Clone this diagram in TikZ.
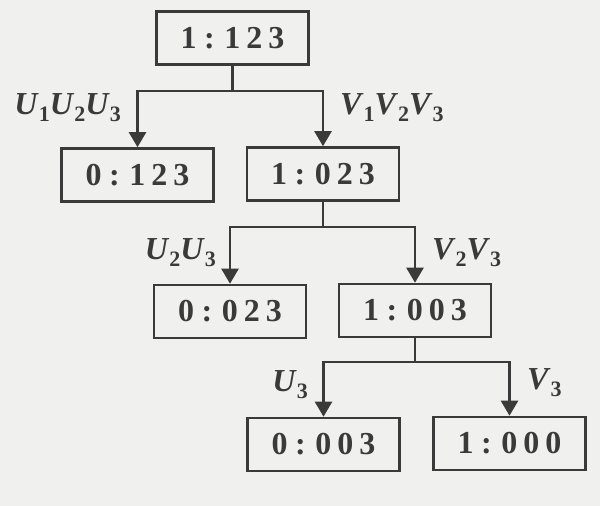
\documentclass[tikz,border=0pt]{standalone}
\usepackage{fontspec}
\setmainfont{Liberation Serif}
\usetikzlibrary{arrows.meta}
\definecolor{ink}{HTML}{3A3A3A}
\definecolor{paper}{HTML}{F0F0EE}
\newcommand{\dg}[1]{\makebox[22pt]{#1}}
\newcommand{\cl}{\makebox[20pt]{:}\hspace{2pt}}
\newcommand{\lb}[2]{\textit{#1}\raisebox{-7pt}{\fontsize{22}{24}\selectfont #2}}
\tikzset{
  statebox/.style={draw=ink, line width=2.6pt, minimum width=152pt, minimum height=53pt,
    inner sep=0pt, text=ink, font=\fontsize{32}{34}\selectfont\bfseries},
  conn/.style={draw=ink, line width=2.4pt},
  arr/.style={conn, -{Triangle[length=15pt,width=17pt]}},
  lab/.style={text=ink, inner sep=0pt, font=\fontsize{32}{34}\selectfont\bfseries}
}
\begin{document}
\begin{tikzpicture}[x=1pt,y=-1pt]
\fill[paper] (0,0) rectangle (600,506);
\useasboundingbox (0,0) rectangle (600,506);
\node[statebox] (b1) at (232.5,38) {\dg{1}\cl\dg{1}\dg{2}\dg{3}};
\node[statebox] (b2) at (137.5,175) {\dg{0}\cl\dg{1}\dg{2}\dg{3}};
\node[statebox] (b3) at (323,174) {\dg{1}\cl\dg{0}\dg{2}\dg{3}};
\node[statebox] (b4) at (230,311.5) {\dg{0}\cl\dg{0}\dg{2}\dg{3}};
\node[statebox] (b5) at (415,310.5) {\dg{1}\cl\dg{0}\dg{0}\dg{3}};
\node[statebox] (b6) at (323.5,444.5) {\dg{0}\cl\dg{0}\dg{0}\dg{3}};
\node[statebox] (b7) at (509.5,443.5) {\dg{1}\cl\dg{0}\dg{0}\dg{0}};
\coordinate (j1) at (b1.south |- 0,91);
\coordinate (j2) at (b3.south |- 0,227);
\coordinate (j3) at (b5.south |- 0,362);
\draw[conn] (b1.south) -- (j1);
\draw[arr] (j1) -| (b2.north);
\draw[arr] (j1) -| (b3.north);
\draw[conn] (b3.south) -- (j2);
\draw[arr] (j2) -| (b4.north);
\draw[arr] (j2) -| (b5.north);
\draw[conn] (b5.south) -- (j3);
\draw[arr] (j3) -| (b6.north);
\draw[arr] (j3) -| (b7.north);
\node[lab, anchor=east] (l1) at (121,108) {\lb{U}{1}\lb{U}{2}\lb{U}{3}};
\node[lab, anchor=west] (l2) at (340,108) {\lb{V}{1}\lb{V}{2}\lb{V}{3}};
\node[lab, anchor=east] (l3) at (216,253) {\lb{U}{2}\lb{U}{3}};
\node[lab, anchor=west] (l4) at (432,253) {\lb{V}{2}\lb{V}{3}};
\node[lab, anchor=east] (l5) at (308,385) {\lb{U}{3}};
\node[lab, anchor=west] (l6) at (527,383) {\lb{V}{3}};
\end{tikzpicture}
\end{document}
